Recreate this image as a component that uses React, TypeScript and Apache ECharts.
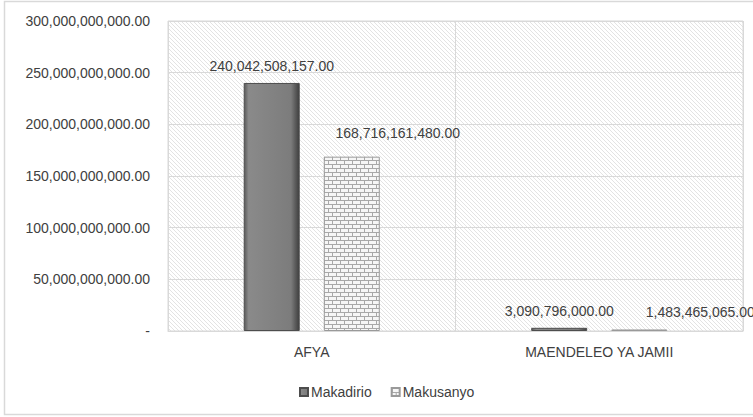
import React, { useEffect, useRef } from "react";
import * as echarts from "echarts";

const categories = ["AFYA", "MAENDELEO YA JAMII"];
const seriesNames = ["Makadirio", "Makusanyo"];
const makadirio = [240042508157.0, 3090796000.0];
const makusanyo = [168716161480.0, 1483465065.0];
const yTicks = [0, 50000000000, 100000000000, 150000000000, 200000000000, 250000000000, 300000000000];

const fmt = (v: number) =>
  v === 0
    ? "-"
    : v.toLocaleString("en-US", { minimumFractionDigits: 2, maximumFractionDigits: 2 });

function hatchCanvas() {
  const c = document.createElement("canvas");
  c.width = 4;
  c.height = 4;
  const ctx = c.getContext("2d")!;
  ctx.fillStyle = "#ffffff";
  ctx.fillRect(0, 0, 4, 4);
  ctx.fillStyle = "#e3e3e3";
  for (let i = 0; i < 4; i++) ctx.fillRect(i, i, 1, 1);
  return c;
}

function brickCanvas() {
  const c = document.createElement("canvas");
  c.width = 16;
  c.height = 8;
  const ctx = c.getContext("2d")!;
  ctx.fillStyle = "#f6f6f6";
  ctx.fillRect(0, 0, 16, 8);
  ctx.fillStyle = "#a8a8a8";
  ctx.fillRect(0, 0, 16, 1);
  ctx.fillRect(0, 4, 16, 1);
  ctx.fillRect(0, 0, 1, 4);
  ctx.fillRect(8, 0, 1, 4);
  ctx.fillRect(4, 4, 1, 4);
  ctx.fillRect(12, 4, 1, 4);
  return c;
}

export default function App() {
  const ref = useRef<HTMLDivElement>(null);
  useEffect(() => {
    if (!ref.current) return;
    const chart = echarts.init(ref.current, undefined, { renderer: "svg" });
    const font = "'Liberation Sans', Arial, sans-serif";
    const textColor = "#404040";
    const brick = { image: brickCanvas(), repeat: "repeat" };
    const labelOffsetsMakusanyo = [
      [46, -7],
      [61, 0],
    ];
    chart.setOption({
      animation: false,
      textStyle: { fontFamily: font },
      graphic: [
        {
          type: "rect",
          shape: { x: 4.5, y: 1.5, width: 800, height: 413 },
          style: { fill: "none", stroke: "#d9d9d9", lineWidth: 1.5 },
          silent: true,
          z: -10,
        },
      ],
      grid: {
        left: 168,
        right: 10,
        top: 21,
        bottom: 86,
        show: true,
        backgroundColor: { image: hatchCanvas(), repeat: "repeat" },
        borderColor: "#d9d9d9",
        borderWidth: 1,
      },
      legend: {
        data: seriesNames,
        left: 294,
        top: 380,
        itemWidth: 8,
        itemHeight: 8,
        itemGap: 19,
        icon: "rect",
        textStyle: { fontSize: 14, color: textColor, fontFamily: font, padding: [0, 0, 0, -2] },
      },
      xAxis: {
        type: "category",
        data: categories,
        axisTick: { show: false },
        axisLine: { lineStyle: { color: "#d9d9d9" } },
        splitLine: { show: true, lineStyle: { color: "#d9d9d9" } },
        axisLabel: { fontSize: 14, color: textColor, margin: 14, fontFamily: font },
      },
      yAxis: {
        type: "value",
        min: 0,
        max: 300000000000,
        interval: 50000000000,
        axisLine: { show: false },
        axisTick: { show: false },
        splitLine: { lineStyle: { color: "#d9d9d9" } },
        axisLabel: {
          fontSize: 14,
          color: textColor,
          margin: 18,
          fontFamily: font,
          formatter: (v: number) => (yTicks.includes(v) ? fmt(v) : ""),
        },
      },
      series: [
        {
          name: seriesNames[0],
          type: "bar",
          data: makadirio,
          barWidth: 56,
          barGap: "43%",
          itemStyle: {
            color: {
              type: "linear",
              x: 0,
              y: 0,
              x2: 1,
              y2: 0,
              colorStops: [
                { offset: 0, color: "#5a5a5a" },
                { offset: 0.08, color: "#8a8a8a" },
                { offset: 0.85, color: "#7c7c7c" },
                { offset: 1, color: "#3f3f3f" },
              ],
            },
            borderColor: "#4d4d4d",
            borderWidth: 1,
          },
          label: {
            show: true,
            position: "top",
            distance: 10,
            fontSize: 14,
            color: textColor,
            fontFamily: font,
            formatter: (p: any) => fmt(p.value),
          },
        },
        {
          name: seriesNames[1],
          type: "bar",
          data: makusanyo.map((v, i) => ({
            value: v,
            label: { offset: labelOffsetsMakusanyo[i] },
          })),
          barWidth: 56,
          itemStyle: {
            color: brick,
            borderColor: "#9a9a9a",
            borderWidth: 1,
          },
          label: {
            show: true,
            position: "top",
            distance: 10,
            fontSize: 14,
            color: textColor,
            fontFamily: font,
            formatter: (p: any) => fmt(p.value),
          },
        },
      ],
    });
    return () => chart.dispose();
  }, []);
  return (
    <div
      ref={ref}
      style={{ position: "fixed", left: 0, top: 0, width: 753, height: 417, background: "#fff" }}
    />
  );
}
